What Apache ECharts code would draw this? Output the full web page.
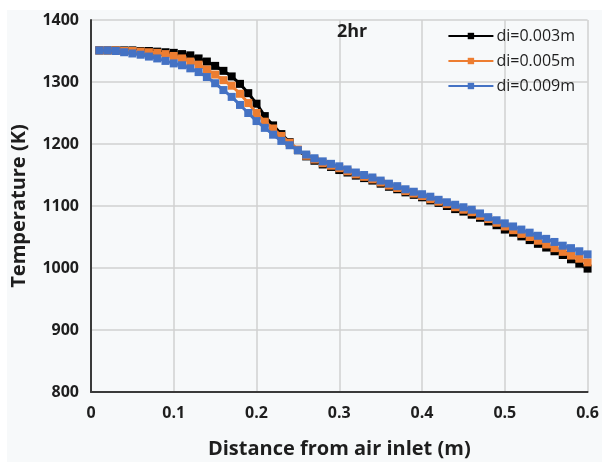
<!DOCTYPE html>
<html>
<head>
<meta charset="utf-8">
<script src="https://cdn.jsdelivr.net/npm/echarts@6/dist/echarts.min.js"></script>
<style>
  html, body { margin: 0; padding: 0; background: #ffffff; }
  #chart { width: 602px; height: 464px; }
</style>
</head>
<body>
<div id="chart"></div>
<script>
// Distance along the tube (m)
const distance = [
  0.01, 0.02, 0.03, 0.04, 0.05, 0.06, 0.07, 0.08, 0.09, 0.10,
  0.11, 0.12, 0.13, 0.14, 0.15, 0.16, 0.17, 0.18, 0.19, 0.20,
  0.21, 0.22, 0.23, 0.24, 0.25, 0.26, 0.27, 0.28, 0.29, 0.30,
  0.31, 0.32, 0.33, 0.34, 0.35, 0.36, 0.37, 0.38, 0.39, 0.40,
  0.41, 0.42, 0.43, 0.44, 0.45, 0.46, 0.47, 0.48, 0.49, 0.50,
  0.51, 0.52, 0.53, 0.54, 0.55, 0.56, 0.57, 0.58, 0.59, 0.60
];

// Temperature (K) for each inner diameter
const tempDi003 = [
  1351, 1351, 1351, 1351, 1351, 1350, 1350, 1349, 1348, 1347,
  1345, 1343, 1338, 1333, 1326, 1318, 1309, 1297, 1282, 1265,
  1245, 1230, 1216, 1203, 1190, 1180, 1173, 1167, 1163, 1158,
  1154, 1149, 1145, 1141, 1136, 1131, 1127, 1122, 1118, 1114,
  1109, 1105, 1100, 1095, 1091, 1086, 1081, 1075, 1069, 1062,
  1057, 1051, 1045, 1039, 1033, 1027, 1021, 1014, 1007, 999
];
const tempDi005 = [
  1351, 1351, 1351, 1350, 1350, 1349, 1348, 1347, 1345, 1342,
  1338, 1333, 1328, 1320, 1312, 1303, 1294, 1281, 1266, 1250,
  1236, 1225, 1213, 1202, 1191, 1181, 1175, 1169, 1165, 1161,
  1156, 1151, 1147, 1143, 1138, 1133, 1129, 1124, 1120, 1116,
  1111, 1107, 1103, 1098, 1094, 1090, 1084, 1079, 1073, 1067,
  1061, 1055, 1050, 1044, 1038, 1032, 1026, 1020, 1015, 1009
];
const tempDi009 = [
  1351, 1351, 1350, 1348, 1346, 1344, 1341, 1338, 1334, 1330,
  1327, 1322, 1316, 1308, 1298, 1287, 1276, 1263, 1250, 1237,
  1226, 1215, 1205, 1198, 1190, 1183, 1177, 1172, 1168, 1164,
  1159, 1154, 1150, 1146, 1141, 1136, 1132, 1127, 1123, 1119,
  1115, 1110, 1106, 1102, 1098, 1094, 1088, 1082, 1077, 1072,
  1067, 1062, 1057, 1052, 1047, 1042, 1036, 1032, 1027, 1022
];

const seriesNames = ['di=0.003m', 'di=0.005m', 'di=0.009m'];
const seriesColors = ['#000000', '#ed7d31', '#4472c4'];
const seriesValues = [tempDi003, tempDi005, tempDi009];

const FONT = '"Open Sans", "DejaVu Sans", sans-serif';
const TEXT = '#1e1e1e';

const chart = echarts.init(document.getElementById('chart'), null, { renderer: 'canvas' });

chart.setOption({
  animation: false,
  backgroundColor: '#ffffff',
  graphic: [{
    type: 'rect',
    z: -10,
    shape: { x: 7, y: 10, width: 595, height: 452 },
    style: { fill: '#f7f9fa' },
    silent: true
  }],
  title: {
    text: '2hr',
    left: 332,
    top: 18,
    textStyle: { fontFamily: FONT, fontSize: 18, fontWeight: 'bold', color: TEXT }
  },
  legend: {
    right: 22,
    top: 23,
    orient: 'vertical',
    itemWidth: 45,
    itemHeight: 8,
    itemGap: 9,
    data: seriesNames,
    textStyle: { fontFamily: FONT, fontSize: 16, color: TEXT, padding: [0, 0, 0, -2] }
  },
  grid: { left: 91, right: 12, top: 20, bottom: 71 },
  xAxis: {
    type: 'value',
    min: 0,
    max: 0.6,
    interval: 0.1,
    name: 'Distance from air inlet (m)',
    nameLocation: 'middle',
    nameGap: 47,
    nameTextStyle: { fontFamily: FONT, fontSize: 20, fontWeight: 'bold', color: TEXT },
    axisLine: { show: true, onZero: false, lineStyle: { color: '#3a3a3a', width: 2 } },
    axisTick: { show: false },
    axisLabel: {
      margin: 13,
      fontFamily: FONT, fontSize: 16, fontWeight: 'bold', color: TEXT,
      formatter: v => (Math.round(v * 10) / 10).toString()
    },
    splitLine: { show: true, lineStyle: { color: '#d0d0d0', width: 1.5 } }
  },
  yAxis: {
    type: 'value',
    min: 800,
    max: 1400,
    interval: 100,
    name: 'Temperature (K)',
    nameLocation: 'middle',
    nameGap: 62,
    nameTextStyle: { fontFamily: FONT, fontSize: 20, fontWeight: 'bold', color: TEXT },
    axisLine: { show: true, lineStyle: { color: '#3a3a3a', width: 2 } },
    axisTick: { show: false },
    axisLabel: {
      margin: 12,
      fontFamily: FONT, fontSize: 16, fontWeight: 'bold', color: TEXT,
      formatter: v => String(v)
    },
    splitLine: { show: true, lineStyle: { color: '#d0d0d0', width: 1.5 } }
  },
  series: seriesNames.map((name, i) => ({
    name: name,
    type: 'line',
    data: distance.map((d, j) => [d, seriesValues[i][j]]),
    symbol: 'rect',
    symbolSize: 8,
    showAllSymbol: true,
    lineStyle: { color: seriesColors[i], width: 3 },
    itemStyle: { color: seriesColors[i], borderWidth: 0 },
    z: 2 + i
  }))
});
</script>
</body>
</html>
